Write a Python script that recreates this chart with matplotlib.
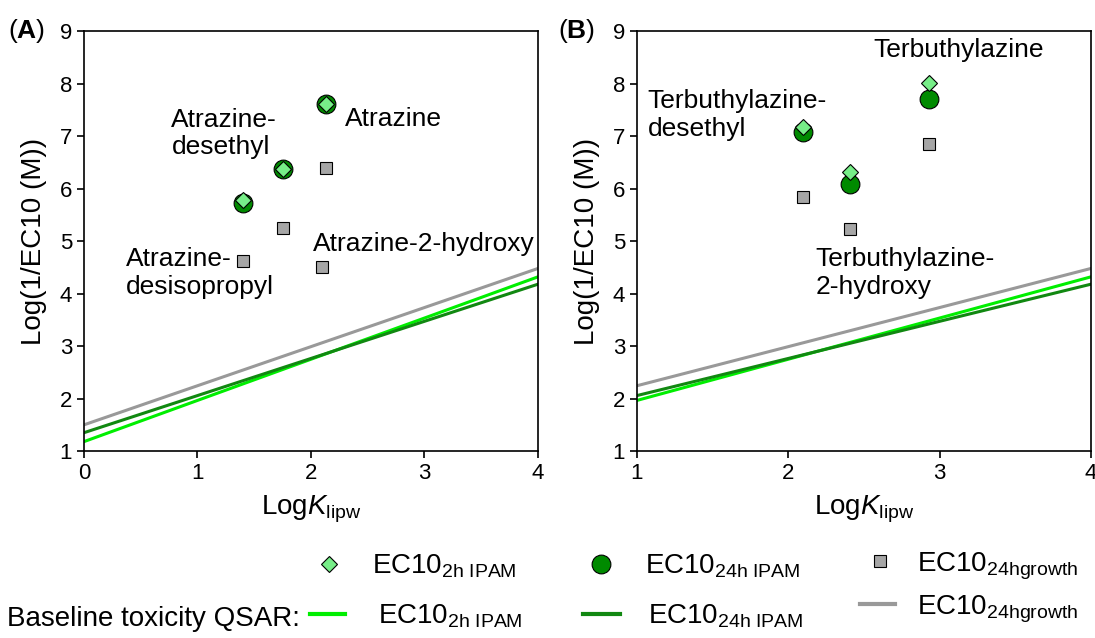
import matplotlib.pyplot as plt
from matplotlib.lines import Line2D

plt.rcParams['font.family'] = ['Liberation Sans', 'DejaVu Sans']
plt.rcParams['mathtext.fontset'] = 'custom'
plt.rcParams['mathtext.rm'] = 'Liberation Sans'
plt.rcParams['mathtext.it'] = 'Liberation Sans:italic'
plt.rcParams['mathtext.bf'] = 'Liberation Sans:bold'

# Panel A: atrazine and metabolites
a_x = [1.40, 1.75, 2.13]
a_2h = [5.78, 6.38, 7.62]
a_24h = [5.72, 6.38, 7.62]
a_growth_x = [1.40, 1.75, 2.13, 2.10]
a_growth = [4.62, 5.25, 6.40, 4.51]

# Panel B: terbuthylazine and metabolites
b_x = [2.10, 2.41, 2.93]
b_2h = [7.18, 6.31, 8.02]
b_24h = [7.08, 6.08, 7.70]
b_growth = [5.84, 5.23, 6.86]

# baseline toxicity QSAR lines (end points at LogKlipw = 0 and 4)
qsar_x = [0, 4]
qsar_2h = [1.18, 4.32]
qsar_24h = [1.35, 4.18]
qsar_growth = [1.50, 4.48]

c_light = '#77ee88'
c_dark = '#008a00'
c_gray = '#a6a6a6'
l_light = '#00ee00'
l_dark = '#118811'
l_gray = '#999999'

fig = plt.figure(figsize=(10.95, 6.38), dpi=100)
ax_a = fig.add_axes([0.0767, 0.293, 0.4146, 0.658])
ax_b = fig.add_axes([0.5817, 0.293, 0.4146, 0.658])


def draw(ax, x, y2h, y24h, gx, ygr, xmin):
    ax.plot(qsar_x, qsar_growth, color=l_gray, lw=2.2, zorder=1)
    ax.plot(qsar_x, qsar_2h, color=l_light, lw=2.2, zorder=1)
    ax.plot(qsar_x, qsar_24h, color=l_dark, lw=2.2, zorder=1)
    ax.plot(gx, ygr, 's', ms=9, mfc=c_gray, mec='black', mew=0.8, zorder=3)
    ax.plot(x, y24h, 'o', ms=13.5, mfc=c_dark, mec='black', mew=0.8, zorder=3)
    ax.plot(x, y2h, 'D', ms=8.3, mfc=c_light, mec='black', mew=0.8, zorder=4)
    ax.set_xlim(xmin, 4)
    ax.set_ylim(1, 9)
    ax.set_xticks(range(xmin, 5))
    ax.set_yticks(range(1, 10))
    ax.tick_params(labelsize=16, length=5, width=1.2, pad=3.5)
    for s in ax.spines.values():
        s.set_linewidth(1.2)
    ax.set_xlabel(r'Log$\mathit{K}_{\mathrm{lipw}}$', fontsize=20, labelpad=7)
    ax.set_ylabel('Log(1/EC10 (M))', fontsize=20, labelpad=9)


draw(ax_a, a_x, a_2h, a_24h, a_growth_x, a_growth, 0)
draw(ax_b, b_x, b_2h, b_24h, b_x, b_growth, 1)

fs = 19
ax_a.text(0.77, 7.05, 'Atrazine-\ndesethyl', fontsize=fs, va='center', ha='left')
ax_a.text(2.30, 7.33, 'Atrazine', fontsize=fs, va='center', ha='left')
ax_a.text(0.37, 4.40, 'Atrazine-\ndesisopropyl', fontsize=fs, va='center', ha='left')
ax_a.text(2.02, 4.95, 'Atrazine-2-hydroxy', fontsize=fs, va='center', ha='left')

ax_b.text(1.07, 7.40, 'Terbuthylazine-\ndesethyl', fontsize=fs, va='center', ha='left')
ax_b.text(2.56, 8.65, 'Terbuthylazine', fontsize=fs, va='center', ha='left')
ax_b.text(2.18, 4.40, 'Terbuthylazine-\n2-hydroxy', fontsize=fs, va='center', ha='left')

fig.text(0.007, 0.951, r'($\mathbf{A}$)', fontsize=19, va='center', ha='left')
fig.text(0.510, 0.951, r'($\mathbf{B}$)', fontsize=19, va='center', ha='left')

lab_2h = r'EC10$_{\mathrm{2h\ IPAM}}$'
lab_24h = r'EC10$_{\mathrm{24h\ IPAM}}$'
lab_gr = r'EC10$_{\mathrm{24hgrowth}}$'

leg_fs = 20
em = leg_fs / 72 * 100  # px per em

# one legend entry per item, so each can be placed like the reference
entries = [
    # handle, label, left px, handle length px, text start px, centre y px
    (Line2D([], [], ls='none', marker='D', ms=8.3, mfc=c_light, mec='black', mew=0.8),
     lab_2h, 315, 28, 372, 566),
    (Line2D([], [], ls='none', marker='o', ms=13.5, mfc=c_dark, mec='black', mew=0.8),
     lab_24h, 587, 28, 645, 566),
    (Line2D([], [], ls='none', marker='s', ms=9, mfc=c_gray, mec='black', mew=0.8),
     lab_gr, 866, 28, 917, 566),
    (Line2D([], [], color=l_light, lw=3), lab_2h, 310, 35, 378, 616),
    (Line2D([], [], color=l_dark, lw=3), lab_24h, 583, 37, 648, 616),
    (Line2D([], [], color=l_gray, lw=3), lab_gr, 860, 35, 917, 609),
]
for h, lab, left, hl, tx, yc in entries:
    fig.legend([h], [lab], frameon=False, fontsize=leg_fs, loc='center left',
               bbox_to_anchor=(left / 1095, 1 - yc / 638), borderpad=0,
               borderaxespad=0, handlelength=hl / em,
               handletextpad=(tx - left - hl) / em)

fig.text(0.006, 1 - 619 / 638, 'Baseline toxicity QSAR:', fontsize=20,
         va='center', ha='left')

fig.savefig('out.png', dpi=100)
